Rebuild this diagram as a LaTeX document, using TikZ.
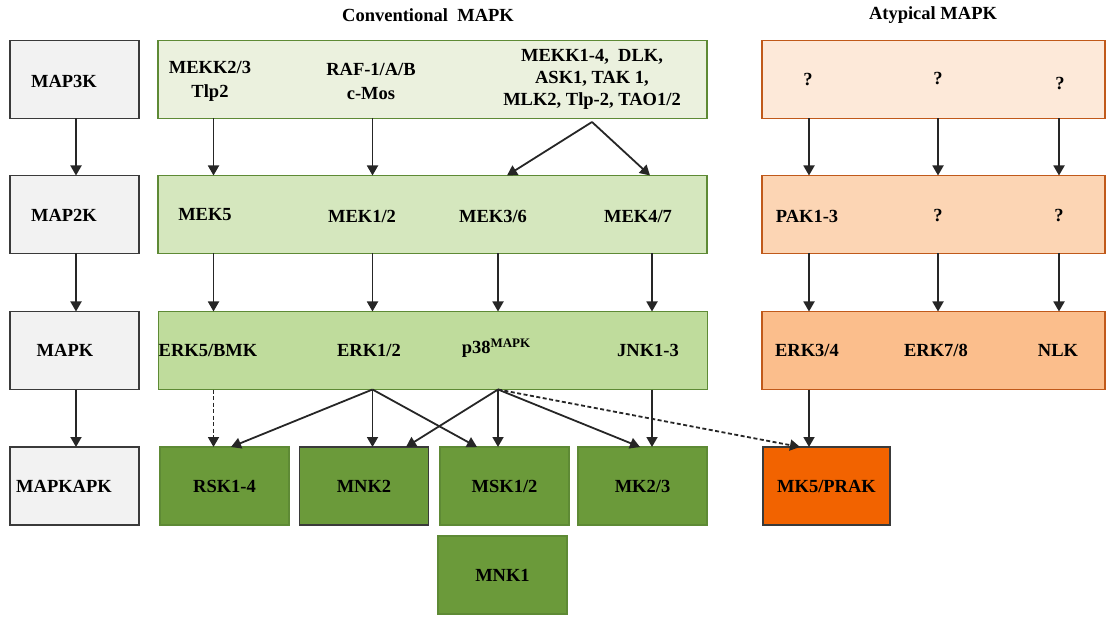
\documentclass[tikz,border=0pt]{standalone}
\usepackage{fontspec}
\setmainfont{Liberation Serif}
\usetikzlibrary{arrows.meta}
\definecolor{grayfill}{HTML}{F2F2F2}
\definecolor{grayline}{HTML}{3A3A3A}
\definecolor{gA}{HTML}{EBF1DE}
\definecolor{gB}{HTML}{D5E7BE}
\definecolor{gC}{HTML}{BFDC9C}
\definecolor{gD}{HTML}{6B9A3A}
\definecolor{gline}{HTML}{5E8A35}
\definecolor{oA}{HTML}{FDE9D9}
\definecolor{oB}{HTML}{FCD5B4}
\definecolor{oC}{HTML}{FBBE8C}
\definecolor{oD}{HTML}{F26300}
\definecolor{oline}{HTML}{C0591A}
\begin{document}
\begin{tikzpicture}[x=1pt,y=-1pt,
  box/.style={draw, line width=1.6pt, inner sep=0pt, outer sep=0pt},
  graybox/.style={box, draw=grayline, line width=1.8pt, fill=grayfill, minimum width=129pt, minimum height=78pt},
  greenrow/.style={box, draw=gline, minimum width=549pt, minimum height=78pt},
  orangerow/.style={box, draw=oline, minimum width=343pt, minimum height=78pt},
  kbox/.style={box, draw=gline, fill=gD, minimum width=129pt, minimum height=78pt},
  lbl/.style={font=\fontsize{18.5}{22}\selectfont\bfseries, align=center, inner sep=0pt},
  arr/.style={-{Triangle[length=10pt,width=11pt]}, line width=1.8pt, draw=black!85},
  darr/.style={arr, dash pattern=on 4pt off 2.5pt}]
\useasboundingbox (0,0) rectangle (1108,617);

% titles
\node[lbl] (tconv) at (428,15) {Conventional\ \ MAPK};
\node[lbl] (tatyp) at (933,15) {Atypical MAPK};

% left column
\node[graybox] (g1) at (74.5,79.5) {};
\node[graybox] (g2) at (74.5,214.5) {};
\node[graybox] (g3) at (74.5,350.5) {};
\node[graybox] (g4) at (74.5,486) {};
\node[lbl] (l1) at (64,81) {MAP3K};
\node[lbl] (l2) at (64,215) {MAP2K};
\node[lbl] (l3) at (65,350) {MAPK};
\node[lbl] (l4) at (64,486) {MAPKAPK};

% conventional rows
\node[greenrow, fill=gA] (r1) at (432.5,79.5) {};
\node[greenrow, fill=gB] (r2) at (432.5,214.5) {};
\node[greenrow, fill=gC] (r3) at (433,350.5) {};

\node[lbl, font=\fontsize{18.5}{24}\selectfont\bfseries] (mekk23) at (210,81) {MEKK2/3\\Tlp2};
\node[lbl, font=\fontsize{18.5}{24}\selectfont\bfseries] (raf) at (371,81) {RAF-1/A/B\\c-Mos};
\node[lbl] (mekk14) at (592,79) {MEKK1-4,\ \ DLK,\\ASK1, TAK\ 1,\\MLK2,\ Tlp-2,\ TAO1/2};

\node[lbl] (mek5) at (205,215) {MEK5};
\node[lbl] (mek12) at (362,216) {MEK1/2};
\node[lbl] (mek36) at (493,216) {MEK3/6};
\node[lbl] (mek47) at (638,216) {MEK4/7};

\node[lbl] (erk5) at (208,350) {ERK5/BMK};
\node[lbl] (erk12) at (369,350) {ERK1/2};
\node[lbl] (p38) at (496,348) {p38\raisebox{5.5pt}{\fontsize{13}{13}\selectfont MAPK}};
\node[lbl] (jnk) at (648,350) {JNK1-3};

% atypical rows
\node[orangerow, fill=oA] (o1) at (933.5,79.5) {};
\node[orangerow, fill=oB] (o2) at (933.5,214.5) {};
\node[orangerow, fill=oC] (o3) at (933.5,350.5) {};
\node[lbl] (q1) at (808,80) {?};
\node[lbl] (q2) at (938,79) {?};
\node[lbl] (q3) at (1060,84) {?};
\node[lbl] (pak) at (807,216) {PAK1-3};
\node[lbl] (q4) at (938,216) {?};
\node[lbl] (q5) at (1059,216) {?};
\node[lbl] (erk34) at (807,350) {ERK3/4};
\node[lbl] (erk78) at (936,350) {ERK7/8};
\node[lbl] (nlk) at (1058,350) {NLK};

% MAPKAPK boxes
\node[kbox] (rsk) at (224.5,486) {};
\node[kbox, draw=grayline] (mnk2) at (364,486) {};
\node[kbox] (msk) at (504.5,486) {};
\node[kbox] (mk23) at (642.5,486) {};
\node[kbox, draw=grayline, fill=oD, minimum width=127pt] (mk5) at (826.5,486) {};
\node[kbox] (mnk1) at (502.5,575) {};
\node[lbl] at (rsk) {RSK1-4};
\node[lbl] at (mnk2) {MNK2};
\node[lbl] at (msk) {MSK1/2};
\node[lbl] at (mk23) {MK2/3};
\node[lbl] at (mk5) {MK5/PRAK};
\node[lbl] at (mnk1) {MNK1};

% column x helpers
\coordinate (c0) at (76,0);
\coordinate (c1) at (213.5,0);
\coordinate (c2) at (372.5,0);
\coordinate (c3) at (498,0);
\coordinate (c4) at (652,0);
\coordinate (k1) at (809,0);
\coordinate (k2) at (938,0);
\coordinate (k3) at (1059,0);
\coordinate (sp) at (592,122);
\coordinate (ta) at (507,0);
\coordinate (tb) at (650,0);
\coordinate (trsk) at (231,0);
\coordinate (tmnk) at (406,0);
\coordinate (tmsk) at (477,0);
\coordinate (tmk) at (640,0);
\coordinate (tmk5) at (800,0);

% left column arrows
\draw[arr] (g1.south -| c0) -- (g2.north -| c0);
\draw[arr] (g2.south -| c0) -- (g3.north -| c0);
\draw[arr] (g3.south -| c0) -- (g4.north -| c0);

% row1 -> row2
\draw[arr] (r1.south -| c1) -- (r2.north -| c1);
\draw[arr] (r1.south -| c2) -- (r2.north -| c2);
\draw[arr] (sp) -- (r2.north -| ta);
\draw[arr] (sp) -- (r2.north -| tb);
\draw[arr] (o1.south -| k1) -- (o2.north -| k1);
\draw[arr] (o1.south -| k2) -- (o2.north -| k2);
\draw[arr] (o1.south -| k3) -- (o2.north -| k3);

% row2 -> row3
\draw[arr] (r2.south -| c1) -- (r3.north -| c1);
\draw[arr] (r2.south -| c2) -- (r3.north -| c2);
\draw[arr] (r2.south -| c3) -- (r3.north -| c3);
\draw[arr] (r2.south -| c4) -- (r3.north -| c4);
\draw[arr] (o2.south -| k1) -- (o3.north -| k1);
\draw[arr] (o2.south -| k2) -- (o3.north -| k2);
\draw[arr] (o2.south -| k3) -- (o3.north -| k3);

% row3 -> MAPKAPK
\draw[darr] (r3.south -| c1) -- (rsk.north -| c1);
\draw[arr] (r3.south -| c2) -- (rsk.north -| trsk);
\draw[arr] (r3.south -| c2) -- (mnk2.north -| c2);
\draw[arr] (r3.south -| c2) -- (msk.north -| tmsk);
\draw[arr] (r3.south -| c3) -- (mnk2.north -| tmnk);
\draw[arr] (r3.south -| c3) -- (msk.north -| c3);
\draw[arr] (r3.south -| c3) -- (mk23.north -| tmk);
\draw[darr] (r3.south -| c3) -- (mk5.north -| tmk5);
\draw[arr] (r3.south -| c4) -- (mk23.north -| c4);
\draw[arr] (o3.south -| k1) -- (mk5.north -| k1);
\end{tikzpicture}
\end{document}
